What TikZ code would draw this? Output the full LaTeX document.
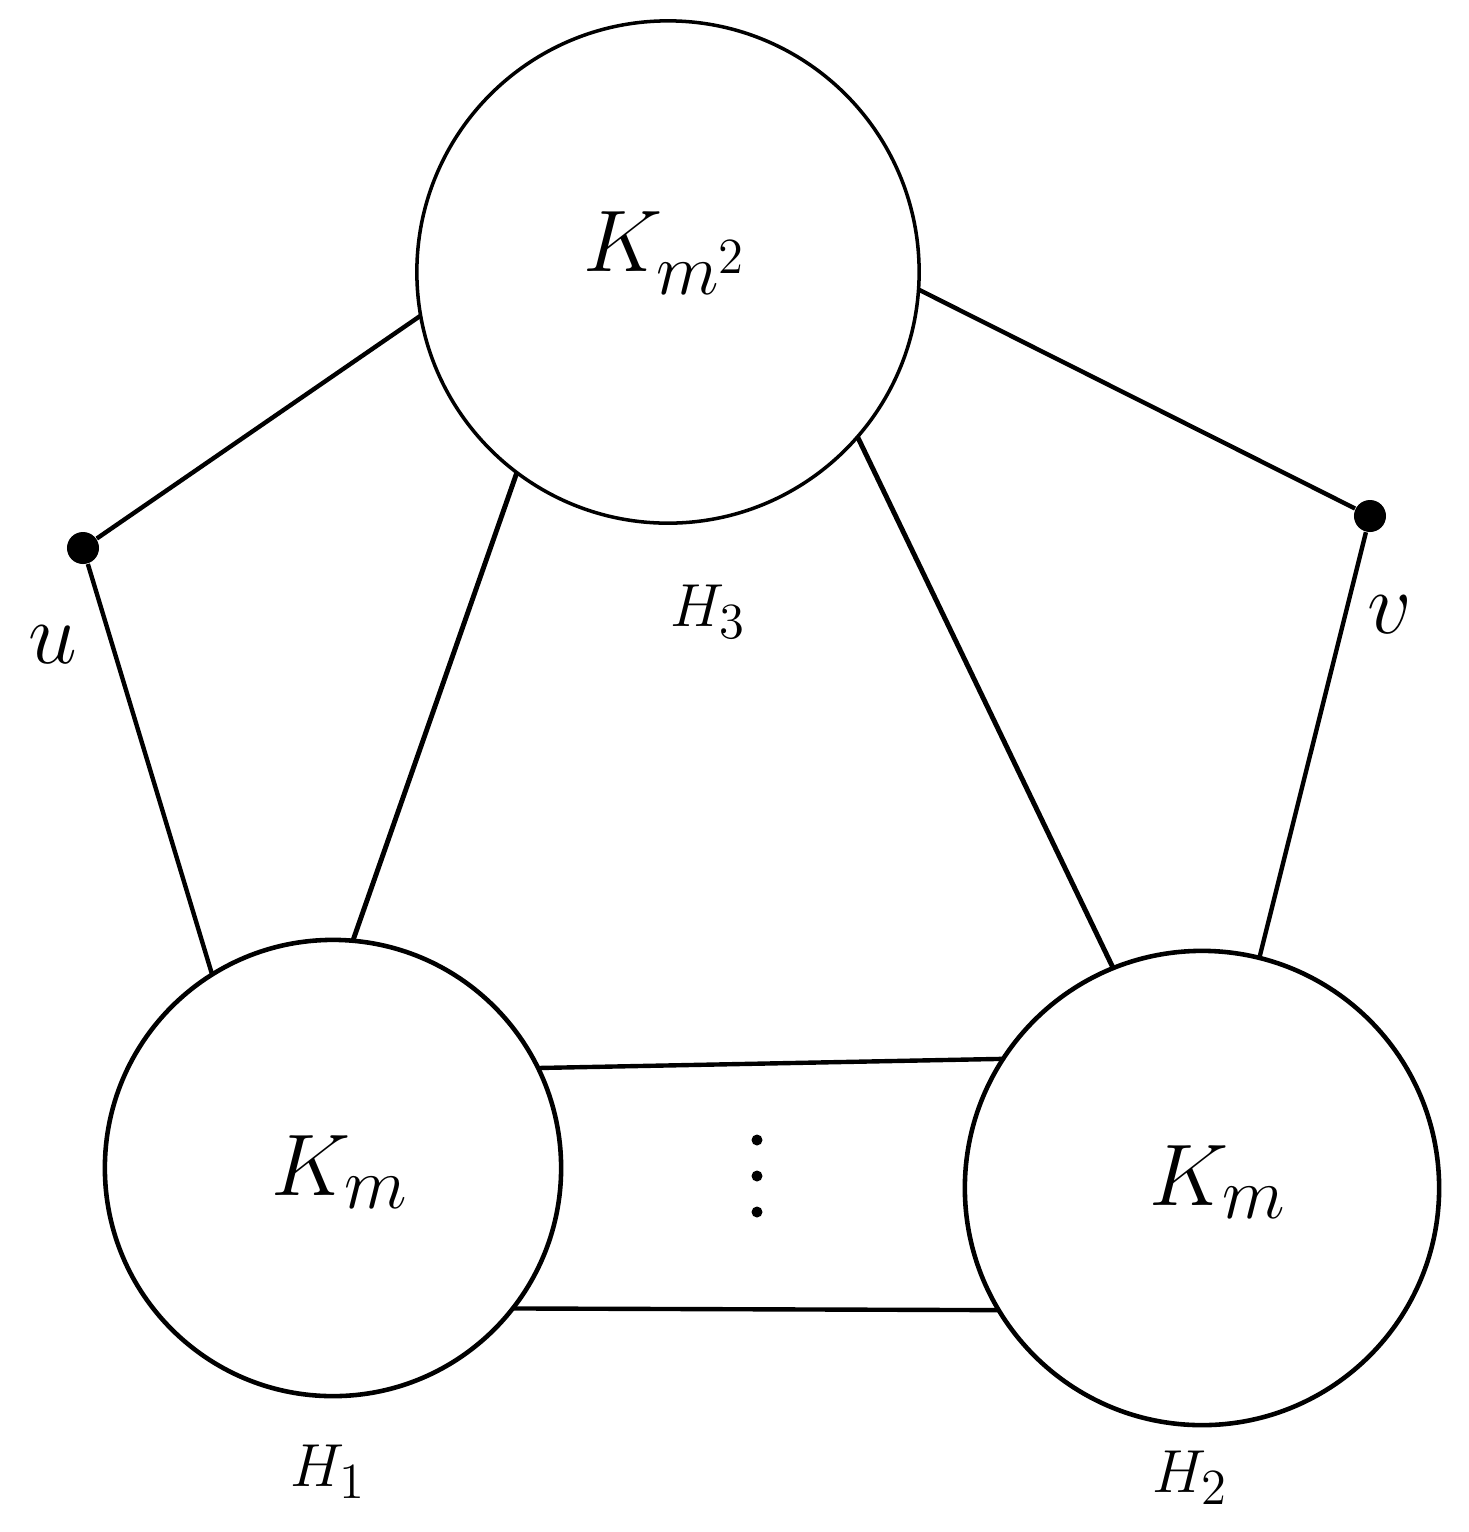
\documentclass[tikz,border=0pt]{standalone}
\begin{document}
\begin{tikzpicture}[x=0.01cm,y=-0.01cm,
  blob/.style={circle,draw,line width=1pt,inner sep=0pt,outer sep=0pt},
  vert/.style={circle,fill,inner sep=0pt,minimum size=0.32cm},
  edge/.style={line width=1.25pt},
  big/.style={font=\fontsize{29}{33}\selectfont},
  lab/.style={font=\fontsize{19}{22}\selectfont},
  vlab/.style={font=\fontsize{25}{28}\selectfont}]
\useasboundingbox (0,0) rectangle (1469,1532);
\node[blob,minimum size=5.02cm] (H3) at (668,272) {};
\node[blob,line width=1.3pt,minimum size=4.56cm] (H1) at (333,1168) {};
\node[blob,line width=1.3pt,minimum size=4.74cm] (H2) at (1202,1188) {};
\node[vert] (u) at (83,548) {};
\node[vert] (v) at (1370,516) {};
\node[big] (t3) at (665,253) {$K_{m^2}$};
\node[big] (t1) at (340,1172) {$K_m$};
\node[big] (t2) at (1218,1182) {$K_m$};
\node[lab] (l3) at (708,612) {$H_3$};
\node[lab] (l1) at (328,1472) {$H_1$};
\node[lab] (l2) at (1190,1478) {$H_2$};
\node[vlab] (lu) at (53,645) {$u$};
\node[vlab] (lv) at (1390,615) {$v$};
\foreach \n/\y in {d1/1140,d2/1176,d3/1212}{\fill (757,\y) circle (0.055cm) coordinate (\n);}
\draw[edge] (u) -- (H3.190);
\draw[edge] (u) -- (H1.122);
\draw[edge,line width=1.4pt] (H3.233) -- (H1.85);
\draw[edge,line width=1.4pt] (H3.319) -- (H2.112);
\draw[edge] (H3.356.6) -- (v);
\draw[edge] (v) -- (H2.76);
\draw[edge] (H1.26) -- (H2.147);
\draw[edge] (H1.322) -- (H2.211.5);
\end{tikzpicture}
\end{document}
